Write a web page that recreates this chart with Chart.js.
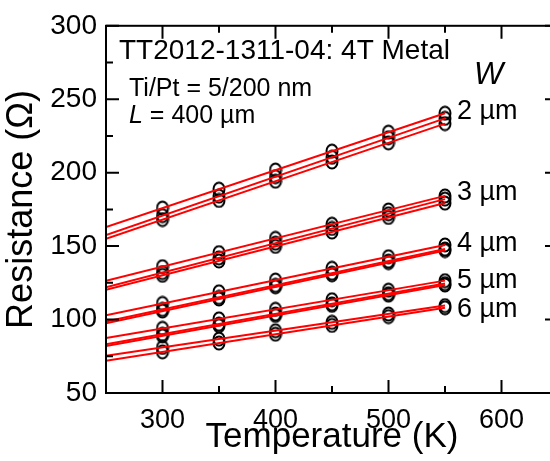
<!DOCTYPE html>
<html>
<head>
<meta charset="utf-8">
<script src="https://cdn.jsdelivr.net/npm/chart.js@4"></script>
<style>
  html, body { margin: 0; padding: 0; background: #fff; overflow: hidden; }
  #wrap { width: 570px; height: 461px; }
</style>
</head>
<body>
<div id="wrap"><canvas id="rt"></canvas></div>
<script>
// --- DATA ---
const temps = [300, 350, 400, 450, 500, 550];

// measured resistance, one row per device
const r2a = [175.9, 188.8, 201.8, 214.7, 227.6, 240.5];
const r2b = [170.8, 184.0, 197.3, 210.5, 223.8, 237.0];
const r2c = [168.1, 181.1, 194.2, 207.3, 220.3, 233.4];
const r3a = [136.0, 145.6, 155.3, 164.9, 174.6, 184.2];
const r3b = [132.0, 142.0, 152.0, 162.0, 172.0, 182.0];
const r3c = [130.1, 139.9, 149.8, 159.6, 169.5, 179.3];
const r4a = [111.0, 118.9, 126.9, 134.9, 142.8, 150.8];
const r4b = [106.9, 115.1, 123.3, 131.6, 139.8, 148.0];
const r4c = [105.8, 114.0, 122.3, 130.5, 138.8, 147.0];
const r5a = [94.0, 100.5, 107.0, 113.5, 120.0, 126.5];
const r5b = [90.0, 96.9, 103.8, 110.7, 117.6, 124.5];
const r5c = [88.9, 95.8, 102.8, 109.7, 116.6, 123.5];
const r6a = [81.0, 86.7, 92.4, 98.1, 103.8, 109.5];
const r6b = [78.0, 84.0, 90.0, 96.0, 102.0, 108.0];

// linear fits: [R at 250 K, R at 550 K]
const fitT = [250, 550];
const f2a = [163.0, 240.5], f2b = [157.5, 237.0], f2c = [155.0, 233.4];
const f3a = [126.4, 184.2], f3b = [122.0, 182.0], f3c = [120.2, 179.3];
const f4a = [103.0, 150.8], f4b = [98.7, 148.0], f4c = [97.5, 147.0];
const f5a = [87.5, 126.5], f5b = [83.1, 124.5], f5c = [82.0, 123.5];
const f6a = [75.3, 109.5], f6b = [72.0, 108.0];

const measured = [r2a, r2b, r2c, r3a, r3b, r3c, r4a, r4b, r4c, r5a, r5b, r5c, r6a, r6b];
const fits = [f2a, f2b, f2c, f3a, f3b, f3c, f4a, f4b, f4c, f5a, f5b, f5c, f6a, f6b];

const widthLabels = ['2 µm', '3 µm', '4 µm', '5 µm', '6 µm'];

// axis ticks
const xMajor = [300, 400, 500, 600];
const xMinor = [250, 350, 450, 550, 650];
const yMajor = [50, 100, 150, 200, 250, 300];
const yMinor = [75, 125, 175, 225, 275];

const FONT = '"Liberation Sans", Arial, sans-serif';

// open oval marker (a bit taller than wide, like the original)
const oval = document.createElement('canvas');
oval.width = 14; oval.height = 16;
(function () {
    const c = oval.getContext('2d');
    c.strokeStyle = '#000';
    c.lineWidth = 2;
    c.beginPath();
    c.ellipse(7, 8, 5.5, 6.5, 0, 0, Math.PI * 2);
    c.stroke();
})();

// --- datasets ---
const datasets = [];
fits.forEach(f => {
    datasets.push({
        type: 'line',
        data: fitT.map((t, i) => ({ x: t, y: f[i] })),
        borderColor: '#ff0000', borderWidth: 2, pointRadius: 0,
        fill: false, tension: 0, order: 0
    });
});
measured.forEach(r => {
    datasets.push({
        type: 'scatter',
        data: temps.map((t, i) => ({ x: t, y: r[i] })),
        pointStyle: oval, pointRadius: 7, order: 1
    });
});

// frame + inward ticks + text labels
const framePlugin = {
    id: 'frame',
    afterDraw(chart) {
        const { ctx, chartArea: a, scales: { x, y } } = chart;
        ctx.save();
        ctx.strokeStyle = '#000';
        ctx.lineWidth = 2;
        ctx.strokeRect(a.left, a.top, a.right - a.left, a.bottom - a.top);
        function xt(v, len) {
            const px = x.getPixelForValue(v);
            ctx.beginPath();
            ctx.moveTo(px, a.bottom); ctx.lineTo(px, a.bottom - len);
            ctx.moveTo(px, a.top); ctx.lineTo(px, a.top + len);
            ctx.stroke();
        }
        function yt(v, len) {
            const py = y.getPixelForValue(v);
            ctx.beginPath();
            ctx.moveTo(a.left, py); ctx.lineTo(a.left + len, py);
            ctx.moveTo(a.right, py); ctx.lineTo(a.right - len, py);
            ctx.stroke();
        }
        xMajor.forEach(v => xt(v, 13));
        xMinor.forEach(v => xt(v, 7));
        yMajor.forEach(v => yt(v, 13));
        yMinor.forEach(v => yt(v, 7));

        ctx.fillStyle = '#000';
        ctx.textAlign = 'left';
        ctx.textBaseline = 'alphabetic';
        ctx.font = '28px ' + FONT;
        ctx.fillText('TT2012-1311-04: 4T Metal', 119, 59);
        ctx.font = '25px ' + FONT;
        ctx.fillText('Ti/Pt = 5/200 nm', 129, 96);
        ctx.font = 'italic 25px ' + FONT;
        ctx.fillText('L', 129, 123);
        const lw = ctx.measureText('L').width;
        ctx.font = '25px ' + FONT;
        ctx.fillText(' = 400 µm', 129 + lw, 123);
        ctx.font = 'italic 31px ' + FONT;
        ctx.fillText('W', 474, 84);
        ctx.font = '27px ' + FONT;
        const labelY = [119, 200, 251, 288, 317];
        widthLabels.forEach((t, i) => ctx.fillText(t, 457, labelY[i]));
        ctx.restore();
    }
};

new Chart(document.getElementById('rt'), {
    data: { datasets },
    options: {
        responsive: true, maintainAspectRatio: false, animation: false,
        layout: { padding: { top: 18, right: 12, left: 0, bottom: 0 } },
        plugins: { legend: { display: false }, tooltip: { enabled: false } },
        scales: {
            x: {
                type: 'linear', min: 250, max: 650,
                afterBuildTicks: s => { s.ticks = xMajor.map(v => ({ value: v })); },
                afterFit: s => { s.height = 68; },
                grid: { display: false, drawTicks: false },
                border: { display: false },
                ticks: { color: '#000', font: { family: FONT, size: 27 }, padding: 11, maxRotation: 0 },
                title: { display: true, text: 'Temperature (K)', color: '#000',
                         font: { family: FONT, size: 35 }, padding: { top: 0, bottom: 3 } }
            },
            y: {
                type: 'linear', min: 50, max: 300,
                afterBuildTicks: s => { s.ticks = yMajor.map(v => ({ value: v })); },
                afterFit: s => { s.width = 106; },
                grid: { display: false, drawTicks: false },
                border: { display: false },
                ticks: { color: '#000', font: { family: FONT, size: 28 }, padding: 9 },
                title: { display: true, text: 'Resistance (Ω)', color: '#000',
                         font: { family: FONT, size: 36 }, padding: { top: 0, bottom: 2 } }
            }
        }
    },
    plugins: [framePlugin]
});
</script>
</body>
</html>
